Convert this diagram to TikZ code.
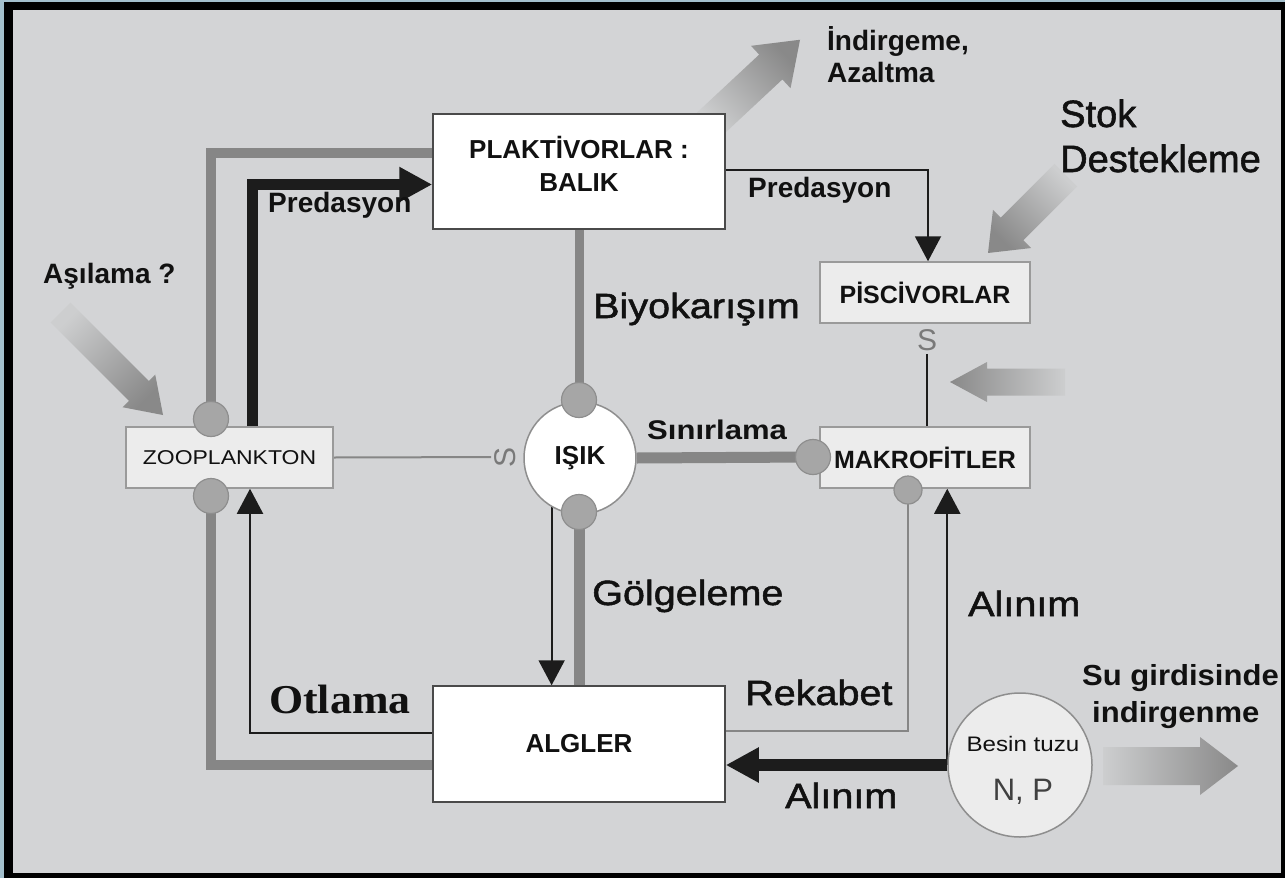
\documentclass[tikz,border=0pt]{standalone}
\usepackage{fontspec}
\setmainfont{Liberation Sans}
\newfontfamily\widefont[FakeStretch=1.15]{Liberation Sans}
\newfontfamily\medwide[FakeStretch=1.13,FakeBold=1.5]{Liberation Sans}
\newfontfamily\medfont[FakeBold=1.5]{Liberation Sans}
\newfontfamily\semiwide[FakeStretch=1.07]{Liberation Sans}
\newfontfamily\serifwide[FakeStretch=1.07]{Liberation Serif}
\usetikzlibrary{arrows.meta}
\pgfdeclarelayer{back}
\pgfdeclarelayer{lines}
\pgfsetlayers{back,lines,main}
\definecolor{bg}{HTML}{D3D4D6}
\definecolor{edgeblue}{HTML}{A3BFCC}
\definecolor{gline}{HTML}{868686}
\definecolor{dotfill}{HTML}{A6A6A6}
\definecolor{dotdraw}{HTML}{8E8E8E}
\definecolor{lightfill}{HTML}{ECECEC}
\definecolor{boxlight}{HTML}{9A9A9A}
\definecolor{boxdark}{HTML}{4A4A4A}
\definecolor{ink}{HTML}{1C1C1C}
\definecolor{txt}{HTML}{111111}
\definecolor{fadelight}{HTML}{CDCECF}
\definecolor{fadedark}{HTML}{898989}
\newcommand\fatarrow[8]{%
  \begin{scope}[shift={(#1,#2)},rotate=#3]
    \shade[left color=fadelight,right color=fadedark,shading angle=#8]
      (0,-#5) -- (#4-#7,-#5) -- (#4-#7,-#6) -- (#4,0) -- (#4-#7,#6) -- (#4-#7,#5) -- (0,#5) -- cycle;
  \end{scope}}
\begin{document}
\begin{tikzpicture}[x=1pt,y=-1pt,
  greyline/.style={draw=gline, line width=10pt},
  thinblack/.style={draw=ink, line width=2pt},
  thingrey/.style={draw=gline, line width=2pt},
  thickblack/.style={draw=ink, line width=11pt},
  bigtip/.style={-{Triangle[length=33pt,width=33pt]}},
  smalltip/.style={-{Triangle[length=25pt,width=26pt]}},
  dot/.style={circle, fill=dotfill, draw=dotdraw, line width=1.2pt, minimum size=35pt, inner sep=0},
  whitebox/.style={rectangle, fill=white, draw=boxdark, line width=1.5pt, inner sep=0},
  lightbox/.style={rectangle, fill=lightfill, draw=boxlight, line width=1.5pt, inner sep=0, text=txt},
  bl/.style={font=\fontsize{28}{30}\selectfont\bfseries, inner sep=0, anchor=base west, text=txt},
  rl/.style={font=\medwide\fontsize{35}{38}\selectfont, inner sep=0, anchor=base west, text=txt},
  slab/.style={font=\fontsize{30}{32}\selectfont, text=gline!90!black, inner sep=3pt},
]
\useasboundingbox (0,0) rectangle (1285,878);
\begin{pgfonlayer}{back}
  \fill[edgeblue] (0,0) rectangle (1285,878);
  \fill[black] (4,2) rectangle (1285,878);
  \fill[bg] (13,10) rectangle (1281,873);
\end{pgfonlayer}

% boxes and circles
\node[whitebox, minimum width=292pt, minimum height=115pt] (plak) at (579,171.5) {};
\node[font=\fontsize{26}{33}\selectfont\bfseries, align=center, inner sep=0, text=txt] (plakt) at (579,164) {PLAKTİVORLAR :\\BALIK};
\node[whitebox, minimum width=292pt, minimum height=116pt, font=\fontsize{26}{30}\selectfont\bfseries, text=txt] (algler) at (579,744) {ALGLER};
\node[lightbox, minimum width=207pt, minimum height=61pt, font=\widefont\fontsize{20}{24}\selectfont] (zoo) at (229.5,457.5) {ZOOPLANKTON};
\node[lightbox, minimum width=210pt, minimum height=61pt, font=\fontsize{25}{28}\selectfont\bfseries] (pisc) at (925,292.5) {PİSCİVORLAR};
\node[lightbox, minimum width=210pt, minimum height=61pt, font=\fontsize{25}{28}\selectfont\bfseries] (mak) at (925,457.5) {MAKROFİTLER};
\node[circle, fill=white, draw=dotdraw, line width=1.5pt, minimum size=112pt, inner sep=0, font=\fontsize{26}{28}\selectfont\bfseries, text=txt] (isik) at (580,458) {IŞIK};
\node[circle, fill=lightfill, draw=dotdraw, line width=1.5pt, minimum size=144pt, inner sep=0] (besin) at (1020,765) {};
\node[font=\widefont\fontsize{21}{24}\selectfont, text=txt, inner sep=0] (besint) at (1023,744) {Besin tuzu};
\node[font=\fontsize{31}{34}\selectfont, text=black!75, inner sep=0] (npt) at (1023,792) {N, P};

% connector dots
\node[dot] (dz1) at (211,419) {};
\node[dot] (dz2) at (211,496) {};
\node[dot] (di1) at (579,400) {};
\node[dot] (di2) at (579,512) {};
\node[dot] (dm1) at (813,457) {};
\node[dot, minimum size=28pt] (dm2) at (908,490) {};

% S labels
\node[slab, rotate=90] (sI) at (505,457) {S};
\node[slab] (sP) at (927,340) {S};

% text labels
\node[bl] (tPredL) at (268,212) {Predasyon};
\node[bl] (tPredR) at (748,197) {Predasyon};
\node[bl] (tInd) at (827,50) {İndirgeme,};
\node[bl] (tAz) at (827,82) {Azaltma};
\node[rl, font=\medfont\fontsize{38}{40}\selectfont] (tStok) at (1060,127) {Stok};
\node[rl, font=\medfont\fontsize{38}{40}\selectfont] (tDest) at (1060,172) {Destekleme};
\node[bl] (tAsi) at (43,283) {Aşılama ?};
\node[rl] (tBiyo) at (593,318) {Biyokarışım};
\node[bl, font=\widefont\fontsize{27}{30}\selectfont\bfseries] (tSin) at (647,439) {Sınırlama};
\node[rl] (tGol) at (592,605) {Gölgeleme};
\node[rl] (tAl1) at (968,616) {Alınım};
\node[bl, font=\semiwide\fontsize{29}{31}\selectfont\bfseries] (tSu) at (1082,685) {Su girdisinde};
\node[bl, font=\semiwide\fontsize{29}{31}\selectfont\bfseries] (tInd2) at (1092,722) {indirgenme};
\node[bl, font=\serifwide\fontsize{41}{44}\selectfont\bfseries] (tOtl) at (269,713) {Otlama};
\node[rl] (tRek) at (745,705) {Rekabet};
\node[rl] (tAl2) at (785,808) {Alınım};

\begin{pgfonlayer}{lines}
  % gradient arrows
  \fatarrow{60.5}{312.5}{-45}{145}{14}{23}{34}{45}
  \fatarrow{708.6}{125}{43}{125}{17}{29}{40}{133}
  \fatarrow{1065.8}{175.2}{-135}{110}{16}{27}{34}{-45}
  \fatarrow{1065}{382}{180}{115}{13.5}{20}{37}{270}
  \fatarrow{1103}{766}{0}{135}{19}{29}{38}{90}
  % connectors
  \draw[greyline] (dz1.center) |- ([yshift=18.5pt]plak.west);
  \draw[thickblack, bigtip] ([xshift=22.5pt]zoo.north) |- ([yshift=-13pt]plak.west);
  \draw[greyline, line width=9pt] (plak.south) -- (di1.center);
  \draw[thinblack, smalltip] ([yshift=1.5pt]plak.east) -| ([xshift=3pt]pisc.north);
  \draw[thingrey] (zoo.east) -- (sI);
  \draw[greyline, line width=11pt] (isik.east) -- (dm1.center);
  \draw[thinblack] (sP.south) -- (sP.south |- mak.north);
  \draw[thinblack, smalltip] (isik.-120) -- (isik.-120 |- algler.north);
  \draw[greyline, line width=11pt] (di2.center) -- (algler.north);
  \draw[greyline] (dz2.center) |- ([yshift=-21pt]algler.west);
  \draw[thinblack, smalltip] ([yshift=11pt]algler.west) -| ([xshift=20.5pt]zoo.south);
  \draw[thingrey] ([yshift=13pt]algler.east) -| (dm2.center);
  \draw[thinblack, smalltip] (besin.west) -- (besin.west |- mak.south);
  \draw[thickblack, line width=12pt, bigtip] (besin.west) -- (besin.west -| algler.east);
\end{pgfonlayer}
\end{tikzpicture}
\end{document}
